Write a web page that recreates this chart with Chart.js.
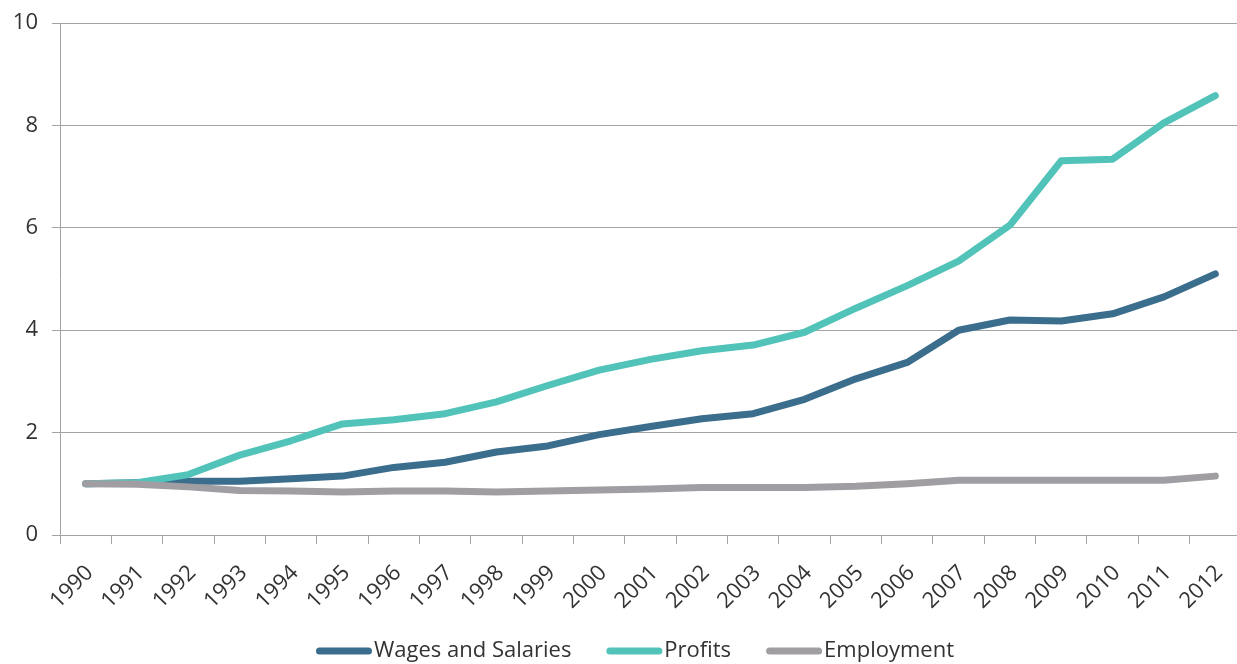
<!DOCTYPE html>
<html>
<head>
<meta charset="utf-8">
<script src="https://cdn.jsdelivr.net/npm/chart.js@4.4.1/dist/chart.umd.min.js"></script>
<style>
  html, body { margin: 0; padding: 0; background: #fff; overflow: hidden; }
  #c { display: block; }
</style>
</head>
<body>
<canvas id="c" width="1241" height="664"></canvas>
<script>
// Index values (1990 = 1)
const years = ['1990','1991','1992','1993','1994','1995','1996','1997','1998','1999','2000',
               '2001','2002','2003','2004','2005','2006','2007','2008','2009','2010','2011','2012'];
const wagesAndSalaries = [1.00, 1.02, 1.05, 1.05, 1.10, 1.15, 1.32, 1.42, 1.62, 1.74, 1.96,
                          2.12, 2.27, 2.37, 2.65, 3.05, 3.37, 4.00, 4.20, 4.18, 4.32, 4.65, 5.10];
const profits = [1.00, 1.02, 1.18, 1.56, 1.84, 2.17, 2.25, 2.37, 2.60, 2.92, 3.22,
                 3.43, 3.60, 3.71, 3.96, 4.43, 4.87, 5.35, 6.05, 7.31, 7.34, 8.05, 8.58];
const employment = [1.00, 0.99, 0.94, 0.87, 0.86, 0.84, 0.86, 0.86, 0.84, 0.86, 0.88,
                    0.90, 0.93, 0.93, 0.93, 0.95, 1.00, 1.07, 1.07, 1.07, 1.07, 1.07, 1.15];
const yTickValues = [0, 2, 4, 6, 8, 10];
const seriesNames = ['Wages and Salaries', 'Profits', 'Employment'];

const FONT = '"Open Sans", Lato, sans-serif';
const TEXT_COLOR = '#333333';
const GRID_COLOR = '#a3a3a3';

// Legend drawn along the bottom: short rounded line swatch followed by the label
const bottomLegend = {
  id: 'bottomLegend',
  afterDraw(chart) {
    const ctx = chart.ctx;
    const sets = chart.data.datasets;
    const markLen = 49, cap = 3.5, gap = 2, spacing = 35;
    const centerX = 635, centerY = 651;
    ctx.save();
    ctx.font = '22px ' + FONT;
    const widths = sets.map(d => markLen + 2 * cap + gap + ctx.measureText(d.label).width);
    const total = widths.reduce((a, b) => a + b, 0) + spacing * (sets.length - 1);
    let x = centerX - total / 2;
    sets.forEach((d, i) => {
      ctx.strokeStyle = d.borderColor;
      ctx.lineWidth = d.borderWidth;
      ctx.lineCap = 'round';
      ctx.beginPath();
      ctx.moveTo(x + cap, centerY);
      ctx.lineTo(x + cap + markLen, centerY);
      ctx.stroke();
      ctx.fillStyle = TEXT_COLOR;
      ctx.textAlign = 'left';
      ctx.textBaseline = 'middle';
      ctx.fillText(d.label, x + markLen + 2 * cap + gap, centerY);
      x += widths[i] + spacing;
    });
    ctx.restore();
  }
};

const lineStyle = (color) => ({
  borderColor: color,
  backgroundColor: color,
  borderWidth: 7,
  borderCapStyle: 'round',
  borderJoinStyle: 'round',
  pointRadius: 0,
  pointHoverRadius: 0,
  tension: 0,
  fill: false
});

new Chart(document.getElementById('c'), {
  type: 'line',
  data: {
    labels: years,
    datasets: [
      Object.assign({ label: seriesNames[0], data: wagesAndSalaries, order: 2 }, lineStyle('#3b6d8d')),
      Object.assign({ label: seriesNames[1], data: profits, order: 1 }, lineStyle('#52c3b9')),
      Object.assign({ label: seriesNames[2], data: employment, order: 0 }, lineStyle('#a09ea3'))
    ]
  },
  options: {
    responsive: false,
    devicePixelRatio: 1,
    animation: false,
    layout: { padding: { top: 23, right: 0, bottom: 0, left: 0 } },
    plugins: {
      legend: { display: false },
      tooltip: { enabled: false }
    },
    scales: {
      x: {
        offset: true,
        grid: {
          offset: true,
          drawOnChartArea: false,
          drawTicks: true,
          tickLength: 9,
          color: GRID_COLOR
        },
        border: { display: true, color: GRID_COLOR, width: 1 },
        ticks: {
          autoSkip: false,
          maxRotation: 45,
          minRotation: 45,
          padding: 16,
          labelOffset: 4,
          color: TEXT_COLOR,
          font: { family: FONT, size: 22 }
        },
        afterFit(scale) {
          scale.height = 129;
          scale.paddingLeft = 0;
          scale.paddingRight = 0;
        }
      },
      y: {
        min: yTickValues[0],
        max: yTickValues[yTickValues.length - 1],
        afterBuildTicks(scale) { scale.ticks = yTickValues.map(v => ({ value: v })); },
        grid: {
          color: GRID_COLOR,
          lineWidth: 1,
          drawTicks: true,
          tickLength: 8
        },
        border: { display: true, color: GRID_COLOR, width: 1 },
        ticks: {
          padding: 14,
          color: TEXT_COLOR,
          font: { family: FONT, size: 22 }
        },
        afterFit(scale) {
          scale.width = 60;
          scale.paddingTop = 0;
          scale.paddingBottom = 0;
        }
      }
    }
  },
  plugins: [bottomLegend]
});
</script>
</body>
</html>
